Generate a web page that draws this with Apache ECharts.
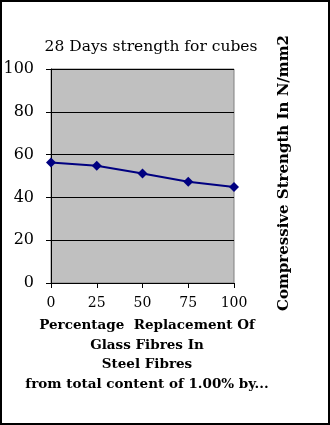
<!DOCTYPE html>
<html><head><meta charset="utf-8">
<script src="https://cdn.jsdelivr.net/npm/echarts@6/dist/echarts.min.js"></script>
<style>html,body{margin:0;padding:0;background:#fff}
#w{position:relative;width:330px;height:425px}
#c{width:330px;height:425px}
#b{position:absolute;left:0;top:0;width:330px;height:425px;box-sizing:border-box;border:2px solid #000;pointer-events:none}</style>
</head><body><div id="w"><div id="c"></div><div id="b"></div></div>
<script>
const categories = ['0', '25', '50', '75', '100'];
const strength = [56.3, 54.8, 51.2, 47.3, 44.9];
const yTicks = [0, 20, 40, 60, 80, 100];
const titleText = '28 Days strength for cubes';
const xName = 'Percentage  Replacement Of\nGlass Fibres In\nSteel Fibres\nfrom total content of 1.00% by...';
const yName = 'Compressive Strength In N/mm2';

const chart = echarts.init(document.getElementById('c'));
const serif = 'DejaVu Serif, Liberation Serif, serif';
chart.setOption({
  animation: false,
  title: {text: titleText, left: 146, top: 34, textAlign: 'center',
    textStyle: {fontFamily: serif, fontWeight: 'normal', fontSize: 15.5, color: '#000'}},
  grid: {left: 51, right: 96, top: 69, bottom: 142, show: true, backgroundColor: '#c0c0c0', borderColor: '#808080', borderWidth: 1},
  xAxis: {type: 'category', data: categories, boundaryGap: false,
    axisLine: {lineStyle: {color: '#000'}}, axisTick: {show: true, length: 5, lineStyle: {color: '#000'}},
    axisLabel: {fontFamily: serif, fontSize: 14, color: '#000', margin: 13},
    name: xName, nameLocation: 'middle', nameGap: 33,
    nameTextStyle: {fontFamily: serif, fontWeight: 'bold', fontSize: 13.5, color: '#000', lineHeight: 19.5, verticalAlign: 'top', padding: [0, 0, 0, 9]}},
  yAxis: {type: 'value', min: yTicks[0], max: yTicks[yTicks.length-1], interval: 20,
    axisLine: {show: true, lineStyle: {color: '#000'}}, axisTick: {show: true, length: 5, lineStyle: {color: '#000'}},
    axisLabel: {fontFamily: serif, fontSize: 16, color: '#000', margin: 17},
    splitLine: {lineStyle: {color: '#000', width: 1}}},
  graphic: [{type: 'text', left: 277, top: 35, rotation: Math.PI/2,
    style: {text: yName, font: 'bold 15px ' + serif, fill: '#000'}}],
  series: [{type: 'line', data: strength, symbol: 'diamond', symbolSize: 10,
    lineStyle: {color: '#000080', width: 2}, itemStyle: {color: '#000080'}}]
});
</script></body></html>
